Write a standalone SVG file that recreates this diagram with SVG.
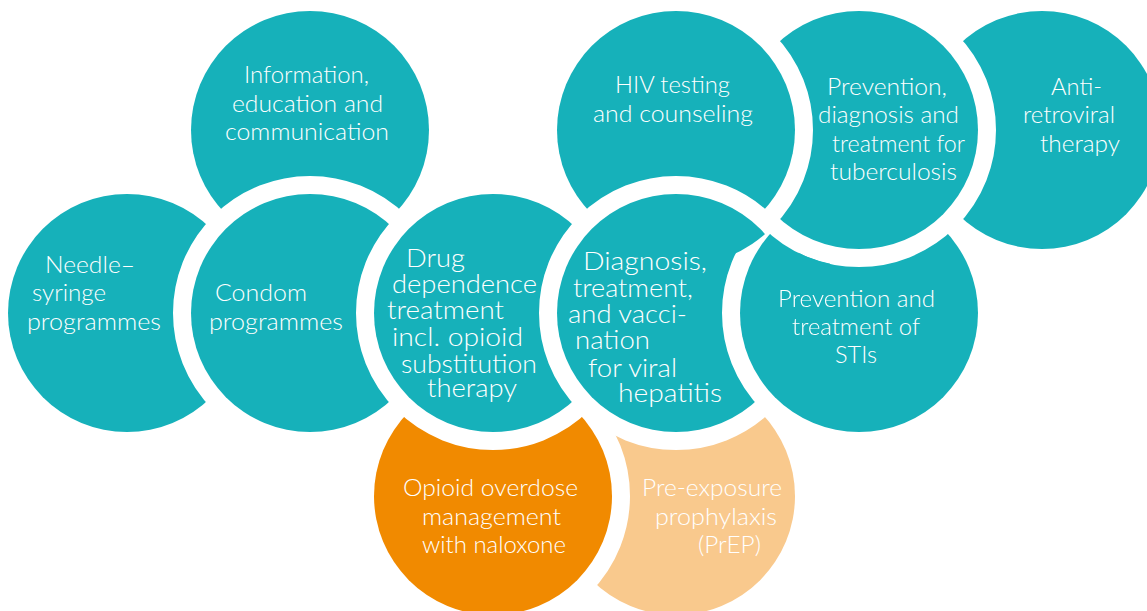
<svg xmlns="http://www.w3.org/2000/svg" xmlns:xlink="http://www.w3.org/1999/xlink" width="1147" height="611" viewBox="0 0 1147 611">
<style>
.c{stroke:#FFFFFF;stroke-width:36;paint-order:stroke fill}
.teal{fill:#16B1BA}
.orange{fill:#F18A00}
.light{fill:#F9C98D}
text{font-family:Lato,"Open Sans","Liberation Sans",sans-serif;font-weight:300;fill:#FFFFFF;font-size:24px}
.big{font-size:26px}
</style>
<defs>
<mask id="stiOver" maskUnits="userSpaceOnUse" x="0" y="0" width="1147" height="611">
<rect x="700" y="170" width="130" height="280" fill="#FFFFFF"/>
<circle cx="676" cy="130" r="137" fill="#000000"/>
<circle cx="859" cy="130" r="137" fill="#000000"/>
</mask>
</defs>
<rect width="1147" height="611" fill="#FFFFFF"/>

<g id="node-needle">
<circle class="c teal" cx="127" cy="313" r="119"/>
<text x="45" y="273" textLength="90" lengthAdjust="spacingAndGlyphs">Needle–</text>
<text x="32" y="301" textLength="74" lengthAdjust="spacingAndGlyphs">syringe</text>
<text x="27" y="330" textLength="134" lengthAdjust="spacingAndGlyphs">programmes</text>
</g>

<g id="node-info">
<circle class="c teal" cx="310" cy="130" r="119"/>
<text x="244" y="83" textLength="125" lengthAdjust="spacingAndGlyphs">Information,</text>
<text x="232" y="112" textLength="151" lengthAdjust="spacingAndGlyphs">education and</text>
<text x="225" y="140" textLength="164" lengthAdjust="spacingAndGlyphs">communication</text>
</g>

<g id="node-condom">
<circle class="c teal" cx="310" cy="313" r="119"/>
<text x="215" y="301" textLength="92" lengthAdjust="spacingAndGlyphs">Condom</text>
<text x="209" y="330" textLength="134" lengthAdjust="spacingAndGlyphs">programmes</text>
</g>

<g id="node-art">
<circle class="c teal" cx="1042" cy="130" r="119"/>
<text x="1051" y="95" textLength="51" lengthAdjust="spacingAndGlyphs">Anti-</text>
<text x="1023" y="123" textLength="92" lengthAdjust="spacingAndGlyphs">retroviral</text>
<text x="1040" y="152" textLength="80" lengthAdjust="spacingAndGlyphs">therapy</text>
</g>

<g id="node-prep">
<circle class="c light" cx="676" cy="496" r="119"/>
<text x="642" y="496" textLength="140" lengthAdjust="spacingAndGlyphs">Pre-exposure</text>
<text x="655" y="525" textLength="122" lengthAdjust="spacingAndGlyphs">prophylaxis</text>
<text x="698" y="553" textLength="63" lengthAdjust="spacingAndGlyphs">(PrEP)</text>
</g>

<g id="node-opioid">
<circle class="c orange" cx="493" cy="496" r="119"/>
<text x="403" y="496" textLength="175" lengthAdjust="spacingAndGlyphs">Opioid overdose</text>
<text x="422" y="525" textLength="139" lengthAdjust="spacingAndGlyphs">management</text>
<text x="422" y="553" textLength="144" lengthAdjust="spacingAndGlyphs">with naloxone</text>
</g>

<g id="node-drug">
<circle class="c teal" cx="493" cy="313" r="119"/>
<text class="big" x="406" y="267" textLength="59" lengthAdjust="spacingAndGlyphs">Drug</text>
<text class="big" x="392" y="293" textLength="145" lengthAdjust="spacingAndGlyphs">dependence</text>
<text class="big" x="387" y="319" textLength="117" lengthAdjust="spacingAndGlyphs">treatment</text>
<text class="big" x="392" y="346" textLength="131" lengthAdjust="spacingAndGlyphs">incl. opioid</text>
<text class="big" x="401" y="373" textLength="136" lengthAdjust="spacingAndGlyphs">substitution</text>
<text class="big" x="427" y="397" textLength="90" lengthAdjust="spacingAndGlyphs">therapy</text>
</g>

<g id="node-sti">
<circle class="c teal" cx="859" cy="313" r="119"/>
<text x="778" y="307" textLength="157" lengthAdjust="spacingAndGlyphs">Prevention and</text>
<text x="792" y="335" textLength="128" lengthAdjust="spacingAndGlyphs">treatment of</text>
<text x="835" y="363" textLength="42" lengthAdjust="spacingAndGlyphs">STIs</text>
</g>

<g id="node-tb">
<circle class="c teal" cx="859" cy="130" r="119"/>
<text x="827" y="95" textLength="120" lengthAdjust="spacingAndGlyphs">Prevention,</text>
<text x="818" y="123" textLength="141" lengthAdjust="spacingAndGlyphs">diagnosis and</text>
<text x="832" y="152" textLength="133" lengthAdjust="spacingAndGlyphs">treatment for</text>
<text x="830" y="180" textLength="127" lengthAdjust="spacingAndGlyphs">tuberculosis</text>
</g>

<g id="node-hiv">
<circle class="c teal" cx="676" cy="130" r="119"/>
<text x="615" y="93" textLength="115" lengthAdjust="spacingAndGlyphs">HIV testing</text>
<text x="593" y="122" textLength="160" lengthAdjust="spacingAndGlyphs">and counseling</text>
</g>

<g id="node-diag">
<circle class="c teal" cx="676" cy="313" r="119"/>
<text class="big" x="583" y="270" textLength="124" lengthAdjust="spacingAndGlyphs">Diagnosis,</text>
<text class="big" x="573" y="297" textLength="120" lengthAdjust="spacingAndGlyphs">treatment,</text>
<text class="big" x="568" y="323" textLength="119" lengthAdjust="spacingAndGlyphs">and vacci-</text>
<text class="big" x="575" y="349" textLength="75" lengthAdjust="spacingAndGlyphs">nation</text>
<text class="big" x="588" y="377" textLength="89" lengthAdjust="spacingAndGlyphs">for viral</text>
<text class="big" x="618" y="402" textLength="104" lengthAdjust="spacingAndGlyphs">hepatitis</text>
</g>

<g id="overlap-sti-over-diag">
<use xlink:href="#node-sti" href="#node-sti" mask="url(#stiOver)"/>
</g>

<g id="connectors"/>
</svg>
